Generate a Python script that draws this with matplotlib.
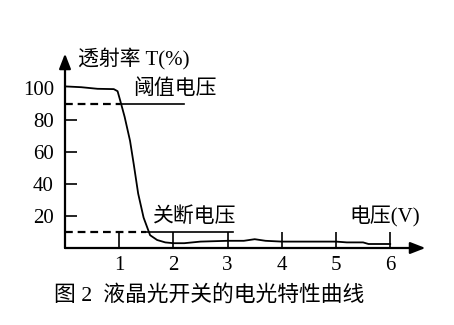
import matplotlib
matplotlib.use("Agg")
from matplotlib import pyplot as plt

plt.rcParams['font.family'] = ['Liberation Serif', 'Noto Sans CJK SC']

# curve
voltage = [0, 0.3, 0.6, 0.9, 0.97, 1.02, 1.1, 1.2, 1.27, 1.35, 1.45, 1.57,
           1.7, 1.85, 2.0, 2.2, 2.5, 3.0, 3.3, 3.5, 3.7, 4.0, 4.5, 5.0,
           5.2, 5.5, 5.6, 5.8, 6.0]
trans = [101, 100.5, 99.5, 99.3, 98, 92, 82, 67, 52, 34, 19, 8,
         5, 3.5, 3, 3, 4, 4.5, 4.5, 5.5, 4.5, 4, 4, 4,
         3.5, 3.5, 2.5, 2.5, 2.5]

x_ticks = [1, 2, 3, 4, 5, 6]
y_labels = [20, 40, 60, 80, 100]

threshold_T = 90
threshold_V = 1.02
threshold_end = 2.2
off_T = 10
off_V = 1.5
off_end = 3.1

fig = plt.figure(figsize=(4.54, 3.25), dpi=100)
ax = fig.add_axes([65 / 454, 77 / 325, 6.7 * 54.2 / 454, 122 * 1.6 / 325])
ax.set_xlim(0, 6.7)
ax.set_ylim(0, 122)
for s in ax.spines.values():
    s.set_visible(False)

# axes with arrows
arrow = dict(arrowstyle='-|>,head_length=0.9,head_width=0.35', color='black', lw=1.6,
             shrinkA=0, shrinkB=0)
ax.annotate('', xy=(6.65, 0), xytext=(0, 0), arrowprops=arrow, annotation_clip=False)
ax.annotate('', xy=(0, 121.5), xytext=(0, 0), arrowprops=arrow, annotation_clip=False)

ax.plot(voltage, trans, color='black', lw=1.3, clip_on=False)

# threshold and off lines
ax.plot([0, threshold_V], [threshold_T, threshold_T], 'k--', lw=1.6, dashes=(3.5, 2.2))
ax.plot([threshold_V, threshold_end], [threshold_T, threshold_T], 'k-', lw=1.2)
ax.plot([0, off_V], [off_T, off_T], 'k--', lw=1.6, dashes=(3.5, 2.2))
ax.plot([off_V, off_end], [off_T, off_T], 'k-', lw=1.2)

# ticks (drawn inside)
ax.set_xticks(x_ticks)
ax.set_xticklabels([str(v) for v in x_ticks], fontsize=15)
ax.tick_params(axis='x', direction='in', length=11.5, width=1.2, pad=6)
ax.set_yticks(y_labels)
ax.set_yticklabels([str(v) for v in y_labels], fontsize=15)
ax.tick_params(axis='y', direction='in', length=8.6, width=1.2, pad=8)
ax.yaxis.get_major_ticks()[-1].tick1line.set_visible(False)

ax.text(1.25, 99.4, '阈值电压', fontsize=15, va='center', ha='left')
ax.text(1.62, 19.4, '关断电压', fontsize=15, va='center', ha='left')
ax.text(6.55, 19.4, '电压(V)', fontsize=15, va='center', ha='right')
ax.text(0.24, 118.7, '透射率 T(%)', fontsize=15, va='center', ha='left', clip_on=False)

fig.text(209 / 454, 1 - 295 / 325, '图 2  液晶光开关的电光特性曲线', fontsize=15.7,
         ha='center', va='center')

fig.savefig('out.png', dpi=100)
